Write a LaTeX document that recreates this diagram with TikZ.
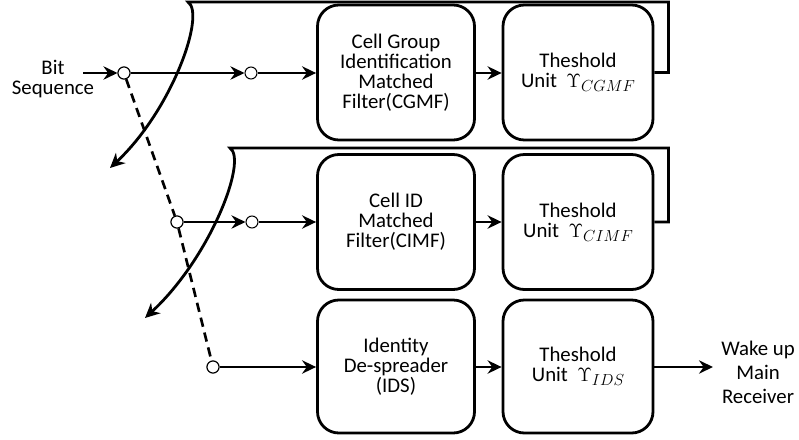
\documentclass[tikz,border=0pt]{standalone}
\usepackage{fontspec}
\setmainfont{Carlito}
\usetikzlibrary{arrows.meta}
\newcommand{\thsub}[1]{\raisebox{-3.2pt}{\fontsize{11.5}{12}\selectfont$#1$}}
\begin{document}
\begin{tikzpicture}[x=0.75pt,y=-0.75pt,
  every node/.style={font=\fontsize{15.6}{15}\selectfont},
  blockbox/.style={draw,line width=2.1pt,rounded corners=16pt,align=center,
    minimum width=117.75pt,minimum height=101.25pt,inner sep=2pt},
  thbox/.style={blockbox,minimum width=112.5pt},
  tap/.style={circle,draw,line width=0.8pt,fill=white,inner sep=0pt,minimum size=9pt},
  flow/.style={line width=2.1pt,-{Stealth[length=10.5pt,width=10pt,inset=3.5pt]}},
  feed/.style={line width=2.1pt,-{Stealth[length=11pt,width=10.5pt,inset=3.5pt]}},
  sw/.style={line width=2pt,dash pattern=on 7pt off 4.5pt}]
\useasboundingbox (0,0) rectangle (799,439);

% processing blocks
\node[blockbox] (cgmf) at (396,72.5) {Cell Group\\Identification\\Matched\\Filter(CGMF)};
\node[blockbox] (cimf) at (396,222) {Cell ID\\Matched\\Filter(CIMF)};
\node[blockbox,minimum height=99.75pt] (ids) at (396,366.5) {Identity\\De-spreader\\(IDS)};

\node[thbox] (th1) at (578,72.5) {Theshold\\Unit~ $\Upsilon$\thsub{CGMF}};
\node[thbox] (th2) at (578,222) {Theshold\\Unit~ $\Upsilon$\thsub{CIMF}};
\node[thbox,minimum height=99.75pt] (th3) at (578,366.5) {Theshold\\Unit~ $\Upsilon$\thsub{IDS}};

% switch taps
\node[tap] (t1) at (124,73) {};
\node[tap] (t2) at (251,73) {};
\node[tap] (t3) at (177,222) {};
\node[tap] (t4) at (252,222) {};
\node[tap] (t5) at (213,367) {};

% labels
\node[align=center] (bitin) at (53,79) {Bit\\Sequence};
\node[align=center,font=\fontsize{15.6}{18}\selectfont] (wake) at (758,372) {Wake up\\Main\\Receiver};
\coordinate (inS) at (83,73);
\coordinate (outE) at (713,367);

% ganged switch (dashed)
\draw[sw] (t1) -- (t3) -- (t5);
\node[tap] at (t1) {};
\node[tap] at (t3) {};
\node[tap] at (t5) {};

% signal path
\draw[flow] (inS) -- (t1);
\draw[flow] (t1) -- (t2);
\draw[flow] (t2) -- (cgmf.west |- t2);
\draw[flow] (cgmf.east |- t2) -- (th1.west |- t2);

\draw[flow] (t3) -- (t4);
\draw[flow] (t4) -- (cimf.west |- t4);
\draw[flow] (cimf.east |- t4) -- (th2.west |- t4);

\draw[flow] (t5) -- (ids.west |- t5);
\draw[flow] (ids.east |- t5) -- (th3.west |- t5);
\draw[flow] (th3.east |- t5) -- (outE);

% feedback from the threshold units to the switch
\coordinate (f1) at (188,2);
\coordinate (f1e) at (110,168);
\coordinate (f2) at (230,148);
\coordinate (f2e) at (145,318);
\draw[feed] (th1.east) -- ++(14,0) |- (f1)
  .. controls (206,14) and (172,110) .. (f1e);
\draw[feed] (th2.east) -- ++(14,0) |- (f2)
  .. controls (248,160) and (210,258) .. (f2e);
\end{tikzpicture}
\end{document}
